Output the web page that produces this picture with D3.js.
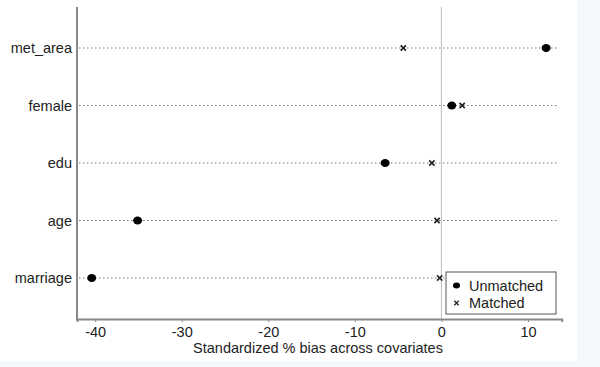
<!DOCTYPE html>
<html>
<head>
<meta charset="utf-8">
<script src="https://cdn.jsdelivr.net/npm/d3@7"></script>
<style>
  html, body { margin: 0; padding: 0; background: #f5f9fb; }
  svg { display: block; font-family: 'Liberation Sans', Arial, sans-serif; }
</style>
</head>
<body>
<div id="chart"></div>
<script>
const variables = ['met_area', 'female', 'edu', 'age', 'marriage'];
const unmatched = [12.1, 1.2, -6.5, -35.1, -40.4];
const matched = [-4.4, 2.4, -1.1, -0.5, -0.2];
const xTicks = [-40, -30, -20, -10, 0, 10];

const width = 600, height = 367;
const fs = 14.5;
const svg = d3.select('#chart').append('svg').attr('width', width).attr('height', height);

// page area (the picture has a faint tinted border right and bottom)
svg.append('rect').attr('x', 0).attr('y', 0).attr('width', 577).attr('height', 361).attr('fill', '#fff');

const x = d3.scaleLinear().domain([-42.1, 13.9]).range([77, 561.7]);
const y = d3.scalePoint().domain(variables).range([48, 278]);
const plotTop = 7, plotBottom = 319;

// zero reference line
svg.append('line')
  .attr('x1', x(0)).attr('x2', x(0)).attr('y1', plotTop).attr('y2', plotBottom)
  .attr('stroke', '#bbb').attr('stroke-width', 1);

// dotted guide lines
svg.append('g').selectAll('line')
  .data(variables)
  .join('line')
  .attr('x1', 79).attr('x2', 558)
  .attr('y1', (d) => y(d)).attr('y2', (d) => y(d))
  .attr('stroke', '#777').attr('stroke-width', 1.2)
  .attr('stroke-dasharray', '1.5,2.5');

// axes
const xAxis = svg.append('g').attr('transform', `translate(0,${plotBottom})`)
  .call(d3.axisBottom(x).tickValues(xTicks).tickSize(3).tickFormat(d3.format('d')));
xAxis.select('.domain').attr('stroke', '#888').attr('stroke-width', 2);
xAxis.selectAll('.tick line').attr('stroke', '#888');
xAxis.selectAll('.tick text').attr('font-size', fs).attr('fill', '#222').attr('dy', '0.85em')
  .text((d) => d < 0 ? '-' + Math.abs(d) : d);

svg.append('line')
  .attr('x1', x.range()[0]).attr('x2', x.range()[0]).attr('y1', plotTop).attr('y2', plotBottom + 1)
  .attr('stroke', '#888').attr('stroke-width', 2);

svg.append('g').selectAll('text')
  .data(variables)
  .join('text')
  .attr('x', 72).attr('y', (d) => y(d)).attr('dy', '0.35em')
  .attr('text-anchor', 'end').attr('font-size', fs).attr('fill', '#222')
  .text((d) => d);

svg.append('text')
  .attr('x', 318).attr('y', 353)
  .attr('text-anchor', 'middle').attr('font-size', fs).attr('fill', '#222')
  .text('Standardized % bias across covariates');

// markers
const cross = d3.symbol().type(d3.symbolX).size(20);
svg.append('g').selectAll('path')
  .data(matched.map((v, i) => ({ v, k: variables[i] })))
  .join('path')
  .attr('transform', (d) => `translate(${x(d.v)},${y(d.k)})`)
  .attr('d', cross)
  .attr('stroke', '#222').attr('stroke-width', 1.6);

svg.append('g').selectAll('ellipse')
  .data(unmatched.map((v, i) => ({ v, k: variables[i] })))
  .join('ellipse')
  .attr('cx', (d) => x(d.v)).attr('cy', (d) => y(d.k))
  .attr('rx', 4.5).attr('ry', 4)
  .attr('fill', '#000');

// legend
const legend = svg.append('g').attr('transform', 'translate(446,272)');
legend.append('rect').attr('width', 110).attr('height', 42)
  .attr('fill', '#fff').attr('stroke', '#555').attr('stroke-width', 1);
legend.append('ellipse').attr('cx', 10.5).attr('cy', 13.5).attr('rx', 3.5).attr('ry', 3).attr('fill', '#000');
legend.append('path').attr('transform', 'translate(10.5,31)').attr('d', d3.symbol().type(d3.symbolX).size(14)())
  .attr('stroke', '#222').attr('stroke-width', 1.3);
legend.append('text').attr('x', 23).attr('y', 14).attr('dy', '0.35em').attr('font-size', fs).attr('fill', '#222').text('Unmatched');
legend.append('text').attr('x', 23).attr('y', 31).attr('dy', '0.35em').attr('font-size', fs).attr('fill', '#222').text('Matched');
</script>
</body>
</html>
